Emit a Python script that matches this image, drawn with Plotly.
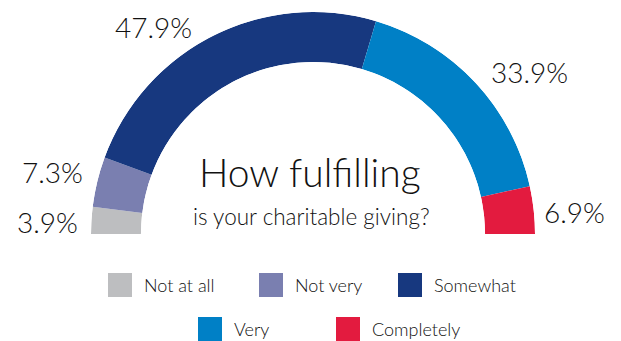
import plotly.graph_objects as go

# Survey answers, in order from the left end of the gauge to the right end
categories = ["Not at all", "Not very", "Somewhat", "Very", "Completely"]
shares = [3.9, 7.3, 47.9, 33.9, 6.9]
colors = ["#BDBEC0", "#7A7FB0", "#17387F", "#0080C6", "#E31B3F"]

FONT = "Lato"
INK = "#111111"
W, H = 621, 341

total = sum(shares)
span = [s * 180.0 / total for s in shares]
centers = []
acc = 0.0
for w in span:
    centers.append(acc + w / 2)
    acc += w

fig = go.Figure()
for cat, w, c, col in zip(categories, span, centers, colors):
    fig.add_trace(go.Barpolar(
        r=[1], theta=[c], width=[w], name=cat,
        marker=dict(color=col, line=dict(width=0)),
        hoverinfo="skip", showlegend=False,
    ))

def px(x, y):
    return x / W, 1 - y / H

# value labels around the arc (pixel anchors of each label centre)
label_pos = [(47, 222), (52, 172), (153, 27), (529, 72), (574, 212)]
annotations = []
for s, (lx, ly) in zip(shares, label_pos):
    ax, ay = px(lx, ly)
    annotations.append(dict(
        x=ax, y=ay, xref="paper", yref="paper", showarrow=False,
        text=f"{s:.1f}%", font=dict(family=FONT, size=28, color=INK, weight=300),
        xanchor="center", yanchor="middle",
    ))

tx, ty = px(310, 172)
annotations.append(dict(x=tx, y=ty, xref="paper", yref="paper", showarrow=False,
                        text="How fulfilling",
                        font=dict(family=FONT, size=39, color=INK, weight=300),
                        xanchor="center", yanchor="middle"))
sx, sy = px(311, 216)
annotations.append(dict(x=sx, y=sy, xref="paper", yref="paper", showarrow=False,
                        text="is your charitable giving?",
                        font=dict(family=FONT, size=22.5, color=INK, weight=300),
                        xanchor="center", yanchor="middle"))

# legend: two centred rows of coloured squares with captions
legend_slots = [(108, 285), (259, 285), (398, 285), (198, 329), (336, 329)]
box = 24
shapes = []
for cat, col, (bx, by) in zip(categories, colors, legend_slots):
    x0, y1 = px(bx, by - box / 2)
    x1, y0 = px(bx + box, by + box / 2)
    shapes.append(dict(type="rect", xref="paper", yref="paper",
                       x0=x0, x1=x1, y0=y0, y1=y1,
                       fillcolor=col, line=dict(width=0)))
    lx, ly = px(bx + box + 10, by)
    annotations.append(dict(x=lx, y=ly, xref="paper", yref="paper", showarrow=False,
                            text=cat, xanchor="left", yanchor="middle",
                            font=dict(family=FONT, size=18, color=INK, weight=300)))

dx0, _ = px(91, 0)
dx1, _ = px(535, 0)
_, dy0 = px(0, 234)
_, dy1 = px(0, 12)

fig.update_layout(
    width=W, height=H,
    margin=dict(l=0, r=0, t=0, b=0),
    paper_bgcolor="white",
    plot_bgcolor="white",
    showlegend=False,
    polar=dict(
        domain=dict(x=[dx0, dx1], y=[dy0, dy1]),
        sector=[0, 180],
        hole=0.775,
        bgcolor="white",
        bargap=0,
        radialaxis=dict(range=[0, 1], visible=False, showgrid=False),
        angularaxis=dict(direction="clockwise", rotation=180, visible=False,
                         showgrid=False),
    ),
    annotations=annotations,
    shapes=shapes,
)

fig.write_html("out.html")
